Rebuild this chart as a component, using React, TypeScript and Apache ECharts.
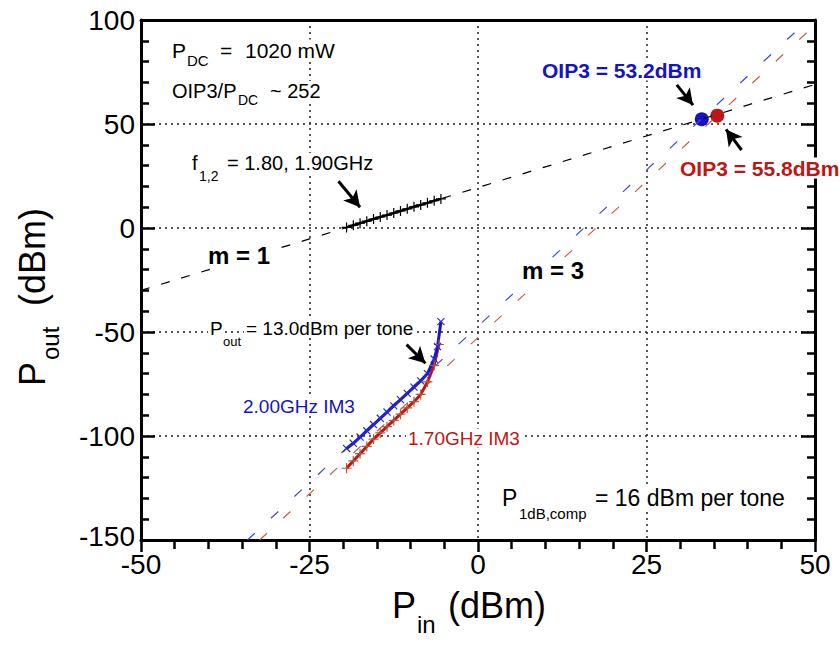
import React, { useEffect, useRef } from "react";
import * as echarts from "echarts";

// ---- data ----
const fundPin = [-19.5, -18.5, -17.5, -16.5, -15.5, -14.5, -13.5, -12.5, -11.5, -10.5, -9.5, -8.5, -7.5, -6.5, -5.5];
const fundPout = [0.3, 1.3, 2.3, 3.3, 4.3, 5.3, 6.2, 7.2, 8.2, 9.2, 10.2, 11.1, 12.1, 13.1, 14.0];

const im3BluePin = [-19.5, -18.5, -17.5, -16.5, -15.5, -14.5, -13.5, -12.5, -11.5, -10.5, -9.5, -8.5, -7.5, -6.5, -6.0, -5.5];
const im3BluePout = [-106, -103.5, -100.5, -97.5, -94.5, -91.5, -88.5, -85.5, -82.5, -79.5, -76.5, -73.5, -70, -63, -57, -45];

const im3RedPin = [-19.5, -18.5, -17.5, -16.5, -15.5, -14.5, -13.5, -12.5, -11.5, -10.5, -9.5, -8.5, -7.5, -6.5, -5.8];
const im3RedPout = [-115.5, -112, -108.5, -105, -101.5, -98.5, -95.5, -92.5, -89.5, -86.5, -83.5, -80, -74, -66, -56];

const fundExtPin = [-50, 50];
const fundExtPout = [-30, 69];
const blueExtPin = [-34.2, 47.0];
const blueExtPout = [-150, 94];
const redExtPin = [-32.4, 48.8];
const redExtPout = [-150, 94];

const oip3Blue = [33.2, 52.3];
const oip3Red = [35.5, 54.0];

const arrowFrom = [[-20.7, 22.5], [-10.6, -56.1], [29.5, 68.8], [39.1, 37.5]];
const arrowTo = [[-17.5, 10.0], [-7.8, -65.0], [31.9, 59.1], [36.8, 47.4]];

const xMin = -50, xMax = 50, xStep = 25;
const yMin = -150, yMax = 100, yStep = 50;

const FONT = 'Arial, "Liberation Sans", sans-serif';
const BLUE = "#1414C4";
const RED = "#BE1616";

const zip = (a: number[], b: number[]) => a.map((v, i) => [v, b[i]]);

const PLUS = "path://M4.4,0h1.2v10h-1.2z M0,4.4h10v1.2h-10z";

function txt(text: string, x: number, y: number, size: number, extra: any = {}) {
  const style: any = {
    text,
    fontSize: size,
    fontFamily: FONT,
    fill: extra.fill || "#000",
    fontWeight: extra.bold ? "bold" : "normal",
    align: "left",
    verticalAlign: "middle",
  };
  if (extra.bg) {
    style.backgroundColor = "#fff";
    style.padding = [0, 2, 0, 2];
  }
  return { type: "text", x, y, z: 100, zlevel: 0, silent: true, style };
}

export default function App() {
  const ref = useRef<HTMLDivElement>(null);
  useEffect(() => {
    if (!ref.current) return;
    const chart = echarts.init(ref.current, null, { renderer: "svg" });
    const bg = { bg: true };
    const option: any = {
      animation: false,
      backgroundColor: "#fff",
      grid: { left: 141, right: 25, top: 20, bottom: 114, containLabel: false },
      xAxis: [
        {
          type: "value",
          min: xMin,
          max: xMax,
          interval: xStep,
          position: "bottom",
          axisLine: { show: true, onZero: false, lineStyle: { color: "#000", width: 3 } },
          axisTick: { show: true, inside: false, length: 12, lineStyle: { color: "#000", width: 2.5 } },
          minorTick: { show: true, splitNumber: 5, length: 9, lineStyle: { color: "#000", width: 2.5 } },
          axisLabel: { fontSize: 28, lineHeight: 22, color: "#000", margin: 13, fontFamily: FONT },
          splitLine: { show: true, lineStyle: { color: "#222", width: 1.5, type: [2, 4] } },
        },
        {
          type: "value",
          min: xMin,
          max: xMax,
          interval: xStep,
          position: "top",
          axisLine: { show: true, onZero: false, lineStyle: { color: "#000", width: 3 } },
          axisTick: { show: false },
          axisLabel: { show: false },
          splitLine: { show: false },
        },
      ],
      yAxis: [
        {
          type: "value",
          min: yMin,
          max: yMax,
          interval: yStep,
          position: "left",
          axisLine: { show: true, onZero: false, lineStyle: { color: "#000", width: 3 } },
          axisTick: { show: true, inside: true, length: 14, lineStyle: { color: "#000", width: 2.5 } },
          minorTick: { show: true, splitNumber: 5, length: 8, lineStyle: { color: "#000", width: 2.5 } },
          axisLabel: {
            fontSize: 28,
            lineHeight: 22,
            color: "#000",
            margin: 6,
            fontFamily: FONT,
            formatter: (v: number) => (v === yMin ? `{lo|${v}}` : `${v}`),
            rich: { lo: { fontSize: 28, lineHeight: 22, fontFamily: FONT, color: "#000", padding: [0, 0, 8, 0] } },
          },
          splitLine: { show: true, lineStyle: { color: "#222", width: 1.5, type: [2, 4] } },
        },
        {
          type: "value",
          min: yMin,
          max: yMax,
          interval: yStep,
          position: "right",
          axisLine: { show: true, onZero: false, lineStyle: { color: "#000", width: 3 } },
          axisTick: { show: true, inside: true, length: 14, lineStyle: { color: "#000", width: 2.5 } },
          minorTick: { show: true, splitNumber: 5, length: 8, lineStyle: { color: "#000", width: 2.5 } },
          axisLabel: { show: false },
          splitLine: { show: false },
        },
      ],
      series: [
        {
          type: "line",
          data: zip(fundExtPin, fundExtPout),
          symbol: "none",
          lineStyle: { color: "#000", width: 1.2, type: [9, 12] },
          silent: true,
        },
        {
          type: "line",
          data: zip(blueExtPin, blueExtPout),
          symbol: "none",
          lineStyle: { color: "#3a4ad8", width: 1.2, type: [10, 22] },
          silent: true,
        },
        {
          type: "line",
          data: zip(redExtPin, redExtPout),
          symbol: "none",
          lineStyle: { color: "#d05a40", width: 1.2, type: [10, 22] },
          silent: true,
        },
        {
          type: "line",
          data: zip(fundPin, fundPout),
          symbol: PLUS,
          symbolSize: 10,
          itemStyle: { color: "#000" },
          lineStyle: { color: "#000", width: 2.5 },
          silent: true,
        },
        {
          type: "line",
          data: zip(im3RedPin, im3RedPout),
          symbol: PLUS,
          symbolSize: 10,
          itemStyle: { color: "#b05a38" },
          lineStyle: { color: RED, width: 3 },
          silent: true,
        },
        {
          type: "line",
          data: zip(im3BluePin, im3BluePout),
          symbol: PLUS,
          symbolRotate: 45,
          symbolSize: 10,
          itemStyle: { color: "#2a2ad0" },
          lineStyle: { color: BLUE, width: 3 },
          silent: true,
        },
        {
          type: "scatter",
          data: [oip3Blue],
          symbol: "circle",
          symbolSize: 14,
          itemStyle: { color: BLUE, opacity: 1 },
          silent: true,
        },
        {
          type: "scatter",
          data: [oip3Red],
          symbol: "circle",
          symbolSize: 14,
          itemStyle: { color: RED, opacity: 1 },
          silent: true,
        },
        {
          type: "line",
          data: [],
          silent: true,
          markLine: {
            silent: true,
            symbol: ["none", "arrow"],
            symbolSize: [13, 16],
            label: { show: false },
            lineStyle: { color: "#000", width: 3, type: "solid" },
            data: arrowFrom.map((f, i) => [{ coord: f }, { coord: arrowTo[i] }]),
          },
        },
      ],
      graphic: [
        txt("P", 170, 50, 21, bg),
        txt("=", 218, 50, 21, bg),
        txt("1020 mW", 243, 50, 21, bg),
        txt("DC", 185, 60, 15, bg),
        txt("OIP3/P", 170, 91, 20, bg),
        txt("~ 252", 268, 91, 20, bg),
        txt("DC", 236, 100, 14, bg),
        txt("f", 190, 163, 20, bg),
        txt("= 1.80, 1.90GHz", 225, 163, 20, bg),
        txt("1,2", 197, 176, 14, bg),
        txt("m = 1", 206, 255, 24, { bold: true, bg: true }),
        txt("m = 3", 520, 270, 24, { bold: true, bg: true }),
        txt("P", 208, 328, 19, bg),
        txt("= 13.0dBm per tone", 244, 328, 19, bg),
        txt("out", 221, 341, 13, bg),
        txt("2.00GHz IM3", 241, 406, 19, { fill: BLUE, bg: true }),
        txt("1.70GHz IM3", 406, 438, 19, { fill: RED, bg: true }),
        txt("OIP3 = 53.2dBm", 540, 70, 21, { bold: true, fill: BLUE, bg: true }),
        txt("OIP3 = 55.8dBm", 678, 168, 21, { bold: true, fill: RED, bg: true }),
        txt("P", 500, 498, 23, bg),
        txt("= 16 dBm per tone", 593, 498, 23, bg),
        txt("1dB,comp", 517, 513, 15, bg),
        // axis titles
        txt("P", 392, 605, 36),
        txt("in", 417, 624, 24),
        txt("(dBm)", 448, 605, 36),
        {
          type: "group",
          x: 32,
          y: 386,
          z: 100,
          rotation: Math.PI / 2,
          silent: true,
          children: [
            txt("P", 0, 0, 36),
            txt("out", 26, 18, 24),
            txt("(dBm)", 80, 0, 36),
          ],
        },
      ],
    };
    chart.setOption(option);
    return () => chart.dispose();
  }, []);
  return (
    <div
      ref={ref}
      style={{ position: "fixed", left: 0, top: 0, width: 840, height: 654, background: "#fff" }}
    />
  );
}
